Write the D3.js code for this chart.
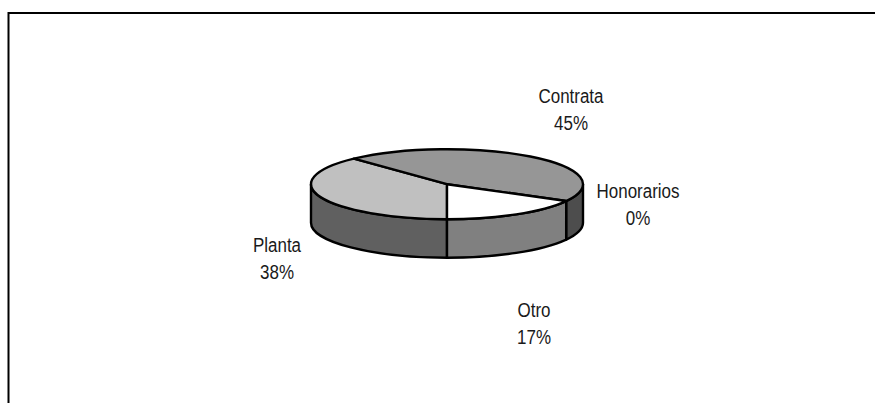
<!DOCTYPE html>
<html>
<head>
<meta charset="utf-8">
<script src="https://cdn.jsdelivr.net/npm/d3@7"></script>
<style>
  html, body { margin: 0; padding: 0; background: #fff; }
  svg { display: block; }
  text { font-family: "Liberation Sans", Arial, sans-serif; font-size: 19.5px; fill: #1a1a1a; }
</style>
</head>
<body>
<svg id="chart" width="875" height="403"></svg>
<script>
// data
const categories = ["Planta", "Contrata", "Honorarios", "Otro"];
const shares = [38, 45, 0, 17];
const topColors = ["#c0c0c0", "#969696", "#ffffff", "#ffffff"];
const sideColors = ["#606060", "#4d4d4d", "#808080", "#808080"];

// constant values
const WIDTH = 875;
const HEIGHT = 403;
const CX = 447;
const CY = 184.2;
const RX = 136;
const RY = 35;
const DEPTH = 38.5;
const LABEL_GAP = 27;
const LABEL_SCALE = 0.87;
// label centres, first line baseline
const LABEL_POS = [[277, 252], [571, 103], [638, 198], [534, 317]];

const svg = d3.select("#chart");

// frame, open at the right and bottom
svg
  .append("path")
  .attr("d", `M8.5,${HEIGHT}V13H${WIDTH}`)
  .attr("fill", "none")
  .attr("stroke", "#000")
  .attr("stroke-width", 2);

const pie = d3
  .pie()
  .sort(null)
  .startAngle(Math.PI)
  .endAngle(3 * Math.PI);
const slices = pie(shares);

// angle measured clockwise from 12 o'clock
const px = (a) => CX + RX * Math.sin(a);
const py = (a, dy = 0) => CY + dy - RY * Math.cos(a);

const rim = (a0, a1, dy = 0, sweep = 1) =>
  `A${RX},${RY} 0 ${Math.abs(a1 - a0) > Math.PI ? 1 : 0} ${sweep} ${px(a1)},${py(a1, dy)}`;

function topPath(d) {
  if (d.endAngle === d.startAngle) return "";
  return `M${CX},${CY}L${px(d.startAngle)},${py(d.startAngle)}${rim(d.startAngle, d.endAngle)}Z`;
}

// only the front half of the wall can be seen: 90deg to 270deg, also seen as 450deg to 630deg
function wallRange(d) {
  const turn = 2 * Math.PI;
  for (const shift of [0, turn]) {
    const a0 = Math.max(d.startAngle, Math.PI / 2 + shift);
    const a1 = Math.min(d.endAngle, 1.5 * Math.PI + shift);
    if (a1 > a0) return [a0, a1];
  }
  return null;
}

function wallPath(d) {
  const r = wallRange(d);
  if (!r) return "";
  const [a0, a1] = r;
  return (
    `M${px(a0)},${py(a0)}${rim(a0, a1)}` +
    `L${px(a1)},${py(a1, DEPTH)}${rim(a1, a0, DEPTH, 0)}Z`
  );
}

const chart = svg
  .append("g")
  .attr("stroke", "#000")
  .attr("stroke-width", 2.4)
  .attr("stroke-linejoin", "round");

chart
  .append("g")
  .selectAll("path")
  .data(slices)
  .join("path")
  .attr("d", wallPath)
  .attr("fill", (d, i) => sideColors[i]);

chart
  .append("g")
  .selectAll("path")
  .data(slices)
  .join("path")
  .attr("d", topPath)
  .attr("fill", (d, i) => topColors[i]);

const labels = svg
  .append("g")
  .selectAll("g")
  .data(categories)
  .join("g")
  .attr(
    "transform",
    (d, i) => `translate(${LABEL_POS[i][0]},${LABEL_POS[i][1]}) scale(${LABEL_SCALE},1)`
  )
  .attr("text-anchor", "middle");

labels.append("text").text((d) => d);
labels
  .append("text")
  .attr("y", LABEL_GAP)
  .text((d, i) => `${shares[i]}%`);
</script>
</body>
</html>
